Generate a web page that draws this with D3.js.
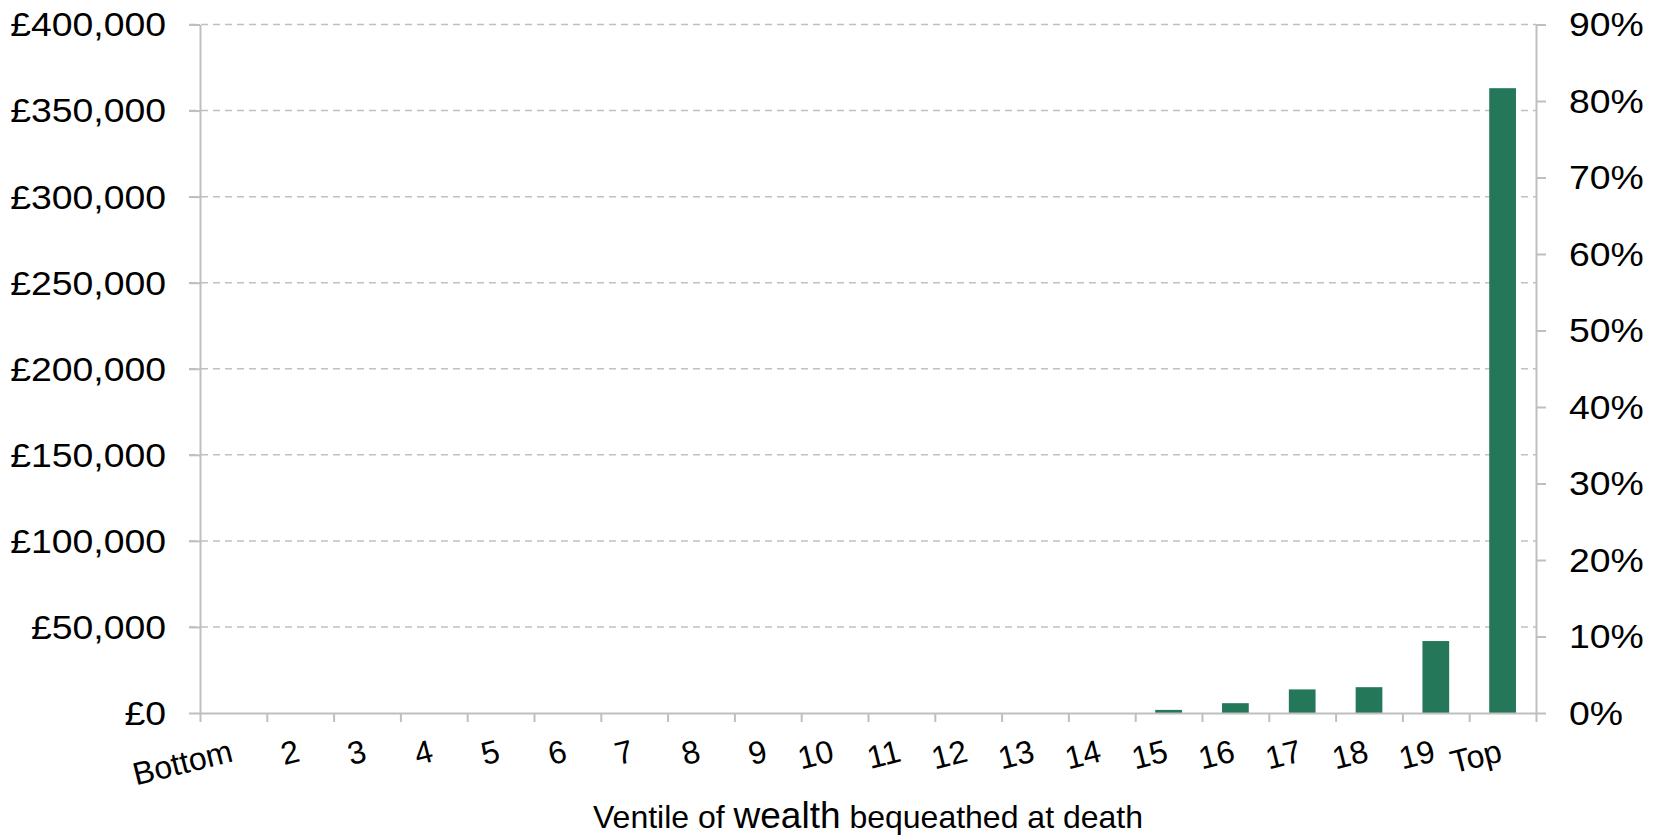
<!DOCTYPE html>
<html>
<head>
<meta charset="utf-8">
<script src="https://cdn.jsdelivr.net/npm/d3@7"></script>
<style>
  body { margin: 0; background: #fff; }
  svg { display: block; }
</style>
</head>
<body>
<div></div>
<script>
// Data
let ventiles = ["Bottom", "2", "3", "4", "5", "6", "7", "8", "9", "10",
                "11", "12", "13", "14", "15", "16", "17", "18", "19", "Top"];
let bequest = [0, 0, 0, 0, 0, 0, 0, 0, 0, 0,
               0, 0, 0, 0, 1800, 5700, 13700, 15000, 41800, 363000];
let leftTicks = [0, 50000, 100000, 150000, 200000, 250000, 300000, 350000, 400000];
let rightTicks = [0, 0.1, 0.2, 0.3, 0.4, 0.5, 0.6, 0.7, 0.8, 0.9];

let width = 1658;
let height = 838;

let paddingLeft = 200;
let paddingRight = 122;
let paddingTop = 24.5;
let paddingBottom = 125;

let plotWidth = width - paddingLeft - paddingRight;
let plotHeight = height - paddingTop - paddingBottom;

let gridColor = "#c0c0c0";
let axisColor = "#bfbfbf";
let barColor = "#247759";
let font = "'Liberation Sans', Arial, sans-serif";

// Add SVG
let svg = d3.select("div").append("svg")
  .attr("width", width)
  .attr("height", height);

let plot = svg.append("g")
  .attr("transform", "translate(" + paddingLeft + ", " + paddingTop + ")");

// Scales
let x = d3.scaleBand()
  .domain(ventiles)
  .range([0, plotWidth])
  .paddingInner(0.6)
  .paddingOuter(0.3);

let xEdge = d3.scaleLinear()
  .domain([0, ventiles.length])
  .range([0, plotWidth]);

let left_scale = d3.scaleLinear()
  .domain([0, 400000])
  .range([plotHeight, 0]);

let right_scale = d3.scaleLinear()
  .domain([0, 0.9])
  .range([plotHeight, 0]);

// Gridlines
plot.append("g")
  .selectAll("line")
  .data(leftTicks.filter(d => d > 0))
  .join("line")
  .attr("x1", -11)
  .attr("x2", plotWidth)
  .attr("y1", d => left_scale(d))
  .attr("y2", d => left_scale(d))
  .style("stroke", gridColor)
  .style("stroke-width", 1.5)
  .style("stroke-dasharray", "7,5");

// Bars
plot.append("g")
  .selectAll("rect")
  .data(ventiles)
  .join("rect")
  .attr("x", d => x(d))
  .attr("width", x.bandwidth())
  .attr("y", (d, i) => left_scale(bequest[i]))
  .attr("height", (d, i) => plotHeight - left_scale(bequest[i]))
  .style("fill", barColor);

// Axes
let fmtPound = v => "£" + d3.format(",")(v);

let left_axis = d3.axisLeft(left_scale)
  .tickValues(leftTicks)
  .tickFormat(fmtPound)
  .tickSizeInner(11)
  .tickSizeOuter(0)
  .tickPadding(23);

let right_axis = d3.axisRight(right_scale)
  .tickValues(rightTicks)
  .tickFormat(d3.format(".0%"))
  .tickSizeInner(10)
  .tickSizeOuter(0)
  .tickPadding(23);

let edge_axis = d3.axisBottom(xEdge)
  .tickValues(d3.range(ventiles.length + 1))
  .tickFormat("")
  .tickSizeInner(9)
  .tickSizeOuter(0);

let label_axis = d3.axisBottom(x)
  .tickSize(0)
  .tickPadding(0);

function styleAxis(g) {
  g.select(".domain").style("stroke", axisColor).style("stroke-width", 2);
  g.selectAll(".tick line").style("stroke", axisColor).style("stroke-width", 2);
  g.selectAll("text")
    .style("font-family", font)
    .style("font-size", "32.5px")
    .style("fill", "#000");
}

let gLeft = plot.append("g").call(left_axis).call(styleAxis);
gLeft.selectAll(".tick text")
  .attr("x", null)
  .attr("dy", "0.35em")
  .attr("transform", "translate(-34, 0) scale(1.15, 1)");

let gRight = plot.append("g")
  .attr("transform", "translate(" + plotWidth + ", 0)")
  .call(right_axis).call(styleAxis);
gRight.selectAll(".tick text")
  .attr("x", null)
  .attr("dy", "0.35em")
  .attr("transform", "translate(33, 0) scale(1.15, 1)");

plot.append("g")
  .attr("transform", "translate(0, " + plotHeight + ")")
  .call(edge_axis).call(styleAxis);

// Category labels, rotated, ending at the band centre
let gLabels = plot.append("g")
  .attr("transform", "translate(0, " + plotHeight + ")")
  .call(label_axis);
gLabels.select(".domain").remove();
gLabels.selectAll(".tick text")
  .attr("y", null)
  .attr("dy", null)
  .style("text-anchor", "end")
  .style("font-family", font)
  .style("font-size", "32px")
  .style("fill", "#000")
  .attr("transform", "translate(1, 48) rotate(-14)");

// Axis title
let title = svg.append("text")
  .attr("x", paddingLeft + plotWidth / 2)
  .attr("y", 827.5)
  .style("text-anchor", "middle")
  .style("font-family", font)
  .style("font-size", "32px")
  .style("fill", "#000");
title.append("tspan").text("Ventile of ");
title.append("tspan").style("font-size", "37px").text("wealth");
title.append("tspan").text(" bequeathed at death");
</script>
</body>
</html>
